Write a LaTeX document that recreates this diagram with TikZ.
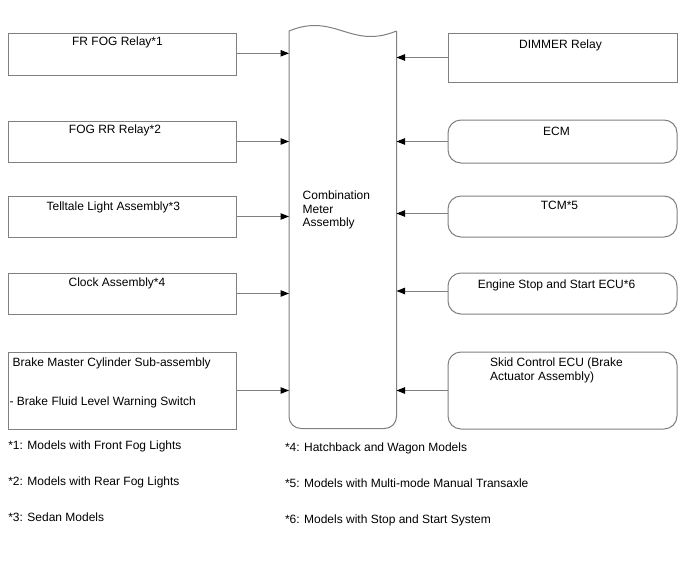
\documentclass[tikz,border=0pt]{standalone}
\usepackage{fontspec}
\setmainfont{Liberation Sans}
\usetikzlibrary{arrows.meta,calc}
\definecolor{linegray}{RGB}{128,128,128}
\begin{document}
\begin{tikzpicture}[x=1pt,y=-1pt,
  every node/.style={inner sep=0pt, outer sep=0pt, font=\fontsize{12}{14}\selectfont},
  boxline/.style={draw=linegray, line width=1pt},
  box/.style={boxline, minimum width=228pt},
  rbox/.style={boxline, rounded corners=13pt, minimum width=229pt},
  arr/.style={draw=linegray, line width=1pt, -{Triangle[length=8.5pt,width=6.5pt,color=black]}},
  lbl/.style={anchor=base},
  lblw/.style={anchor=base west}
]
\fill[white] (0,0) rectangle (688,560);
\useasboundingbox (0,0) rectangle (688,560);

% centre block
\node[minimum width=107.5pt, minimum height=397.5pt] (meter) at (342.75,229.75) {};
\draw[boxline] (meter.north west) .. controls +(46,-19) and +(-46,19) .. (meter.north east);
\draw[boxline, rounded corners=12pt] (meter.north east) -- (meter.south east) -- (meter.south west) -- (meter.north west);
\node[lblw] (metert) at (302.7,199.3) {\vtop{\baselineskip=13.7pt \hbox{Combination}\hbox{Meter}\hbox{Assembly}}};

% left boxes
\node[box, minimum height=42pt] (fr) at (122,54) {};
\node[box, minimum height=41pt] (fogrr) at (122,141.5) {};
\node[box, minimum height=41pt] (tell) at (122,216.5) {};
\node[box, minimum height=41pt] (clock) at (122,293.5) {};
\node[box, minimum height=77pt] (brake) at (122,390.5) {};

\node[lbl] (frt) at ($(fr.north)+(-4.5,12.7)$) {FR FOG Relay*1};
\node[lbl] (fogrrt) at ($(fogrr.north)+(-7,12.3)$) {FOG RR Relay*2};
\node[lbl] (tellt) at ($(tell.north)+(-8.7,14)$) {Telltale Light Assembly*3};
\node[lbl] (clockt) at ($(clock.north)+(-5,13.7)$) {Clock Assembly*4};
\node[lblw] (braket1) at ($(brake.north west)+(4.7,14.7)$) {Brake Master Cylinder Sub-assembly};
\node[lblw] (braket2) at ($(brake.north west)+(1.5,53)$) {- Brake Fluid Level Warning Switch};

% right boxes
\node[boxline, minimum width=229pt, minimum height=49pt] (dimmer) at (562.5,57.5) {};
\node[rbox, minimum height=43pt] (ecm) at (562.5,141.5) {};
\node[rbox, minimum height=41pt] (tcm) at (562.5,216.5) {};
\node[rbox, minimum height=41pt] (eng) at (562.5,293.5) {};
\node[rbox, minimum height=77pt] (skid) at (562.5,390.5) {};

\node[lbl] (dimmert) at ($(dimmer.north)+(-2,15.6)$) {DIMMER Relay};
\node[lbl] (ecmt) at ($(ecm.north)+(-6,15)$) {ECM};
\node[lbl] (tcmt) at ($(tcm.north)+(-3,13.3)$) {TCM*5};
\node[lbl] (engt) at ($(eng.north)+(-6,15)$) {Engine Stop and Start ECU*6};
\node[lblw] (skidt) at (490,366.7) {\vtop{\baselineskip=13.5pt \hbox{Skid Control ECU (Brake}\hbox{Actuator Assembly)}}};

% connectors
\draw[arr] ([yshift=0.7pt]fr.east) -- ([yshift=0.7pt]fr.east -| meter.west);
\draw[arr] (fogrr.east) -- (fogrr.east -| meter.west);
\draw[arr] (tell.east) -- (tell.east -| meter.west);
\draw[arr] (clock.east) -- (clock.east -| meter.west);
\draw[arr] (brake.east) -- (brake.east -| meter.west);
\draw[arr] (dimmer.west) -- (dimmer.west -| meter.east);
\draw[arr] (ecm.west) -- (ecm.west -| meter.east);
\draw[arr] ([yshift=3pt]tcm.west) -- ([yshift=3pt]tcm.west -| meter.east);
\draw[arr] ([yshift=2.5pt]eng.west) -- ([yshift=2.5pt]eng.west -| meter.east);
\draw[arr] (skid.west) -- (skid.west -| meter.east);

% footnotes
\node[lblw] (n1) at (8.3,449.3) {*1: Models with Front Fog Lights};
\node[lblw] (n2) at (8.3,485) {*2: Models with Rear Fog Lights};
\node[lblw] (n3) at (8.3,521.7) {*3: Sedan Models};
\node[lblw] (n4) at (285,451.7) {*4: Hatchback and Wagon Models};
\node[lblw] (n5) at (285,487.3) {*5: Models with Multi-mode Manual Transaxle};
\node[lblw] (n6) at (285,523.3) {*6: Models with Stop and Start System};
\end{tikzpicture}
\end{document}
